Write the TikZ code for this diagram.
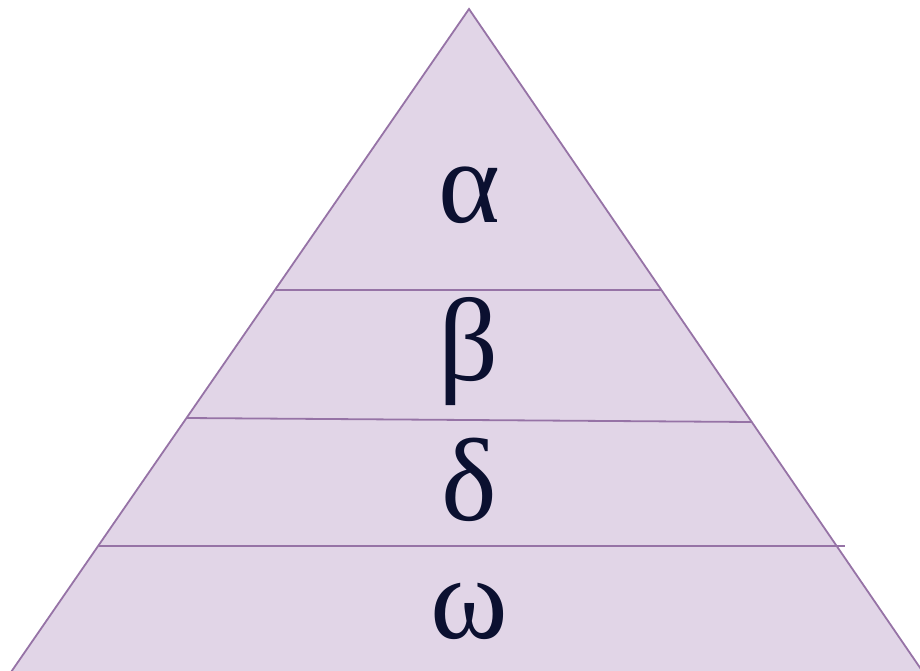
\documentclass[tikz,border=0pt]{standalone}
\usepackage{fontspec}
\setmainfont{Liberation Serif}
\definecolor{pfill}{HTML}{E1D5E7}
\definecolor{pline}{HTML}{9673A6}
\definecolor{ptext}{HTML}{0B1030}
\begin{document}
\begin{tikzpicture}[x=1pt,y=-1pt,
  layerline/.style={draw=pline,line width=1.8pt},
  greek/.style={text=ptext,font=\fontsize{118}{118}\selectfont,inner sep=0pt,anchor=base}]
\useasboundingbox (0,0) rectangle (920,670);
\begin{scope}
\clip (0,0) rectangle (920,670);
\path[fill=pfill,draw=pline,line width=1.8pt] (469,9) -- (9,675) -- (925,675) -- cycle;
\end{scope}
\draw[layerline] (276,290) -- (662,290);
\draw[layerline] (187,418) -- (752,422);
\draw[layerline] (99,546) -- (845,546);
\node[greek] (a) at (469,222) {α};
\node[greek] (b) at (469,380) {β};
\node[greek] (d) at (469,520) {δ};
\node[greek] (w) at (469,638) {ω};
\end{tikzpicture}
\end{document}
